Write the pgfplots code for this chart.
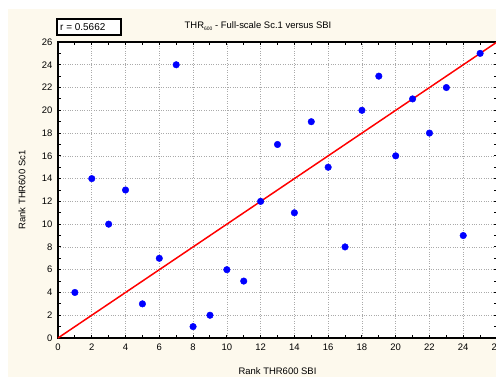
\documentclass[border=0pt]{standalone}
\usepackage{fontspec}
\setmainfont{Liberation Sans}
\usepackage{pgfplots}
\pgfplotsset{compat=1.18}
\definecolor{cream}{RGB}{253,249,237}
\definecolor{dotblue}{RGB}{0,0,255}
\definecolor{gridgray}{RGB}{170,170,170}
\begin{document}
\begin{tikzpicture}[x=1bp,y=1bp]
\useasboundingbox (0,0) rectangle (496,377);
\fill[cream] (8,0) rectangle (497,368);
\begin{axis}[
  at={(58bp,39bp)}, anchor=south west,
  scale only axis, width=439bp, height=296bp,
  xmin=0, xmax=26, ymin=0, ymax=26,
  xtick={0,2,...,26}, ytick={0,2,...,26},
  minor x tick num=1, minor y tick num=1,
  tick align=inside,
  major tick length=3bp, minor tick length=3bp,
  every tick/.style={black, line width=1pt},
  axis line style={black, line width=1.4pt},
  axis background/.style={fill=white},
  grid=major,
  major grid style={gridgray, dotted, line width=0.6pt},
  font=\fontsize{9.5}{11}\selectfont,
  /pgf/number format/assume math mode=true,
  xticklabel style={yshift=-2bp},
  yticklabel style={xshift=-2bp},
  xlabel={Rank THR600 SBI},
  ylabel={Rank THR600 Sc1},
  xlabel style={at={(axis description cs:0.5,-0.112)}, anchor=center, font=\fontsize{9.5}{11}\selectfont},
  ylabel style={at={(axis description cs:-0.082,0.5)}, anchor=center, font=\fontsize{9.5}{11}\selectfont},
  clip=false,
]
\addplot[red, line width=1.5pt, no markers] coordinates {(0,0) (26,26)};
\addplot[only marks, mark=*, mark size=3.3bp, mark options={draw=dotblue, fill=dotblue}] coordinates {
(1,4) (2,14) (3,10) (4,13) (5,3) (6,7) (7,24) (8,1) (9,2) (10,6) (11,5) (12,12) (13,17)
(14,11) (15,19) (16,15) (17,8) (18,20) (19,23) (20,16) (21,21) (22,18) (23,22) (24,9) (25,25)
};
\end{axis}
\draw[black, line width=1.4pt, fill=white] (57,342) rectangle (121,358);
\node[anchor=west, font=\fontsize{10}{11}\selectfont, inner sep=0] at (60,350) {r = 0.5662};
\node[font=\fontsize{9.5}{11}\selectfont, inner sep=0] at (258,351) {THR\raisebox{-0.5ex}{\fontsize{5}{5}\selectfont 600} - Full-scale Sc.1 versus SBI};
\end{tikzpicture}
\end{document}
